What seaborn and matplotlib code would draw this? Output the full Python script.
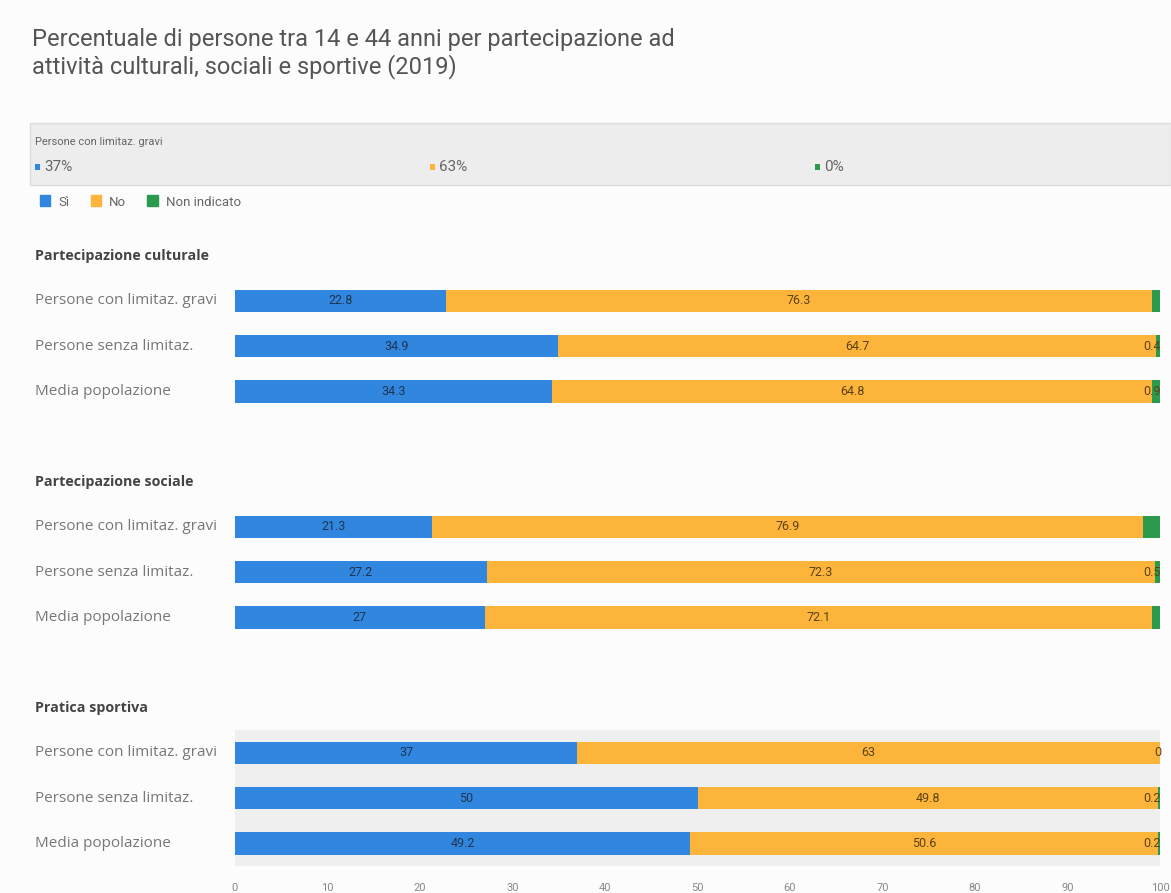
import matplotlib
matplotlib.use("Agg")
import matplotlib.pyplot as plt
import matplotlib.patches as mpatches
from matplotlib.transforms import blended_transform_factory
import seaborn as sns
import pandas as pd

# ---------------- data ----------------
groups = ["Partecipazione culturale", "Partecipazione sociale", "Pratica sportiva"]
rows = ["Persone con limitaz. gravi", "Persone senza limitaz.", "Media popolazione"]
si_vals = [[22.8, 34.9, 34.3], [21.3, 27.2, 27.0], [37.0, 50.0, 49.2]]
no_vals = [[76.3, 64.7, 64.8], [76.9, 72.3, 72.1], [63.0, 49.8, 50.6]]
ni_vals = [[0.9, 0.4, 0.9], [1.8, 0.5, 0.9], [0.0, 0.2, 0.2]]
si_text = [["22.8", "34.9", "34.3"], ["21.3", "27.2", "27"], ["37", "50", "49.2"]]
no_text = [["76.3", "64.7", "64.8"], ["76.9", "72.3", "72.1"], ["63", "49.8", "50.6"]]
ni_text = [["", "0.4", "0.9"], ["", "0.5", ""], ["0", "0.2", "0.2"]]
series = ["Sì", "No", "Non indicato"]
colors = ["#3186E0", "#FDB43A", "#2B9A4C"]
tooltip_title = "Persone con limitaz. gravi"
tooltip_vals = ["37%", "63%", "0%"]
xticks = [0, 10, 20, 30, 40, 50, 60, 70, 80, 90, 100]
title = ("Percentuale di persone tra 14 e 44 anni per partecipazione ad\n"
         "attività culturali, sociali e sportive (2019)")

# ---------------- frame ----------------
recs = []
order = []
for gi, g in enumerate(groups):
    order.append(f"H|{g}")
    for ri, r in enumerate(rows):
        key = f"{g}|{r}"
        order.append(key)
        s, n, u = si_vals[gi][ri], no_vals[gi][ri], ni_vals[gi][ri]
        recs.append(dict(key=key, group=g, row=r, si=s, no=n, ni=u,
                         si_no=s + n, tot=s + n + u,
                         st=si_text[gi][ri], nt=no_text[gi][ri], ut=ni_text[gi][ri]))
    if gi < len(groups) - 1:
        order.append(f"G|{gi}")
df = pd.DataFrame(recs)

# ---------------- figure ----------------
sns.set_theme(style="white")
plt.rcParams["font.family"] = ["Roboto", "DejaVu Sans"]
W, H = 1171, 893
fig = plt.figure(figsize=(W / 100, H / 100), dpi=100, facecolor="#FCFCFC")
ax = fig.add_axes([235 / W, 1 - 866 / H, (1160 - 235) / W, (866 - 233) / H])
ax.set_facecolor("#FCFCFC")

# highlight band behind the hovered group
last = order.index(f"H|{groups[-1]}")
ax.axhspan(last + 0.5, len(order) - 0.5, color="#EFEFEF", zorder=0)

common = dict(data=df, y="key", order=order, orient="h", width=0.5,
              errorbar=None, ax=ax, saturation=1, zorder=2, linewidth=0)
sns.barplot(x="tot", color=colors[2], **common)
sns.barplot(x="si_no", color=colors[1], **common)
sns.barplot(x="si", color=colors[0], **common)

ax.set_xlim(0, 100)
ax.set_ylim(len(order) - 0.5, -0.5)
ax.set_xlabel("")
ax.set_ylabel("")
ax.set_yticks([])
ax.set_xticks(xticks)
ax.set_xticklabels([str(t) for t in xticks])
ax.tick_params(axis="x", length=0, pad=12, labelsize=8, colors="#888888")
for sp in ax.spines.values():
    sp.set_visible(False)

# value labels
for _, r in df.iterrows():
    yy = order.index(r["key"])
    ax.text(r["si"] / 2, yy, r["st"], ha="center", va="center",
            fontsize=9, color="#1E3550", zorder=5)
    ax.text(r["si"] + r["no"] / 2, yy, r["nt"], ha="center", va="center",
            fontsize=9, color="#5A4214", zorder=5)
    if r["ut"]:
        ax.text(r["tot"] + 0.1, yy, r["ut"], ha="right", va="center",
                fontsize=9, color="#5A4214", zorder=5)

# row and group labels on the left
tr = blended_transform_factory(fig.transFigure, ax.transData)
for k in order:
    if k.startswith("G|"):
        continue
    yy = order.index(k)
    if k.startswith("H|"):
        fig.text(35 / W, yy, k[2:], transform=tr, ha="left", va="center",
                 fontsize=10.3, fontweight="bold", color="#444444",
                 family=["Open Sans", "DejaVu Sans"])
    else:
        fig.text(35 / W, yy, k.split("|")[1], transform=tr, ha="left",
                 va="center", fontsize=11, color="#777777",
                 family=["Open Sans", "DejaVu Sans"])

# title
fig.text(32 / W, 1 - 28 / H, title, ha="left", va="top", fontsize=17,
         color="#555555", linespacing=1.15)

# tooltip-like grey box
box = mpatches.Rectangle((30 / W, 1 - 185 / H), 1 - 30 / W, 62 / H,
                         transform=fig.transFigure, facecolor="#EDEDED",
                         edgecolor="#DDDDDD", linewidth=1, zorder=0)
fig.patches.append(box)
fig.text(35 / W, 1 - 142 / H, tooltip_title, ha="left", va="center",
         fontsize=8, color="#666666")
for xpx, val, c in zip([35, 430, 815], tooltip_vals, colors):
    fig.patches.append(mpatches.Rectangle((xpx / W, 1 - 169.5 / H), 5 / W, 5 / H,
                                          transform=fig.transFigure,
                                          facecolor=c, edgecolor="none"))
    fig.text((xpx + 9) / W, 1 - 167 / H, val, ha="left", va="center",
             fontsize=11, color="#666666")

# legend
handles = [mpatches.Patch(color=c, label=s) for c, s in zip(colors, series)]
fig.legend(handles=handles, loc="center left", bbox_to_anchor=(28 / W, 1 - 202 / H),
           ncol=3, frameon=False, fontsize=9.5, handlelength=0.8,
           handleheight=0.9, handletextpad=0.6, columnspacing=1.6,
           labelcolor="#666666")

fig.savefig("out.png", dpi=100, facecolor=fig.get_facecolor())
